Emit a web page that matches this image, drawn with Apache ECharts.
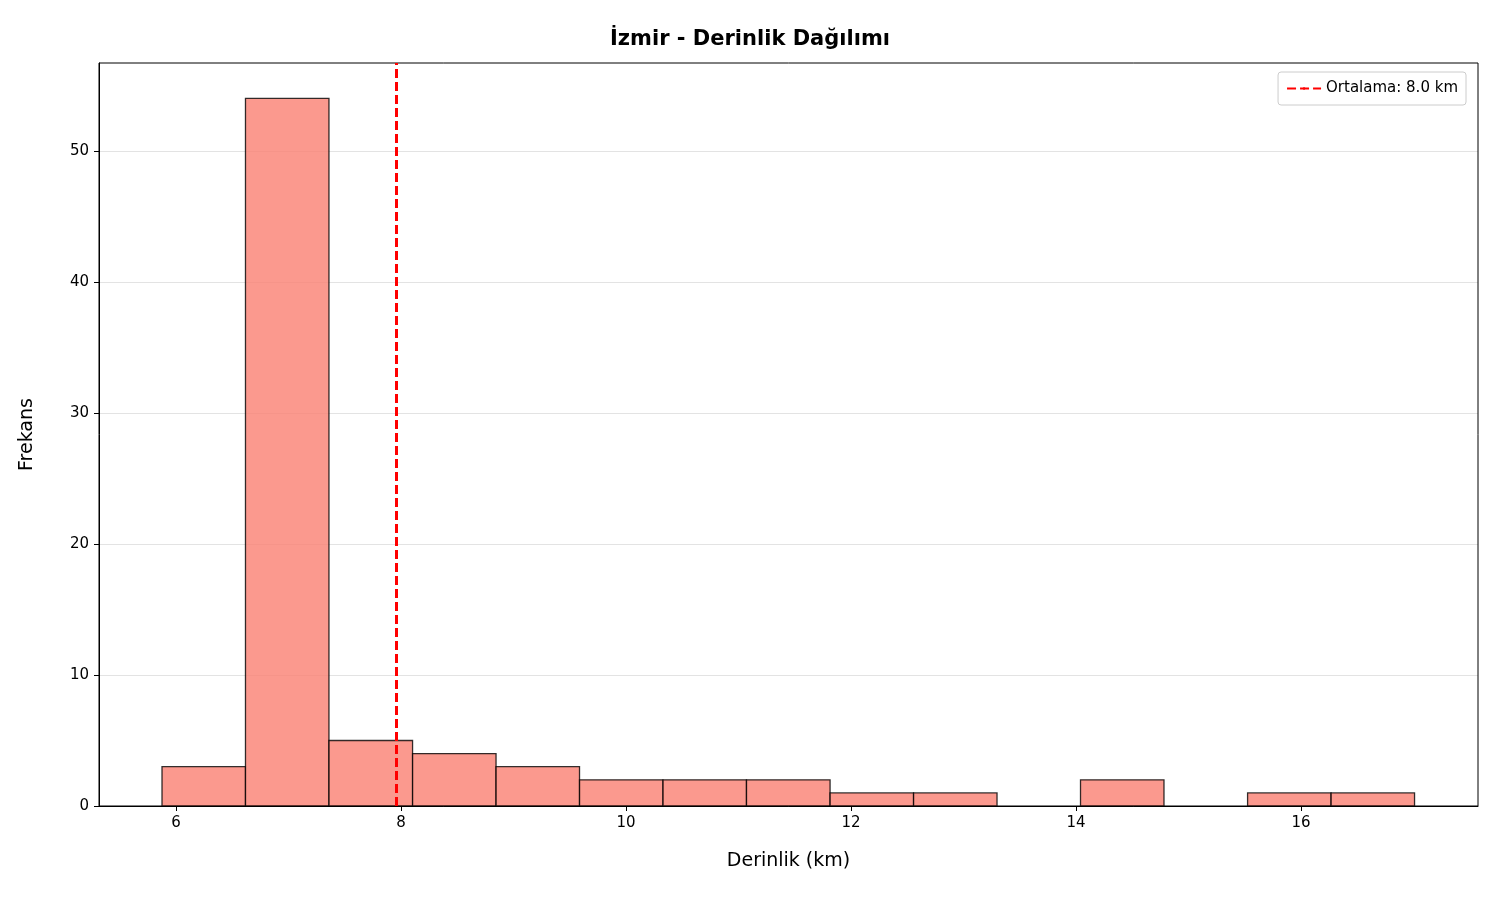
<!DOCTYPE html>
<html><head><meta charset="utf-8">
<script src="https://cdn.jsdelivr.net/npm/echarts@6/dist/echarts.min.js"></script>
<style>html,body{margin:0;padding:0;background:#fff}#c{width:1500px;height:900px}</style>
</head><body><div id="c"></div>
<script>
const binEdges = [5.876,6.618,7.360,8.103,8.845,9.587,10.329,11.071,11.814,12.556,13.298,14.040,14.782,15.525,16.267,17.009];
const counts = [3,54,5,4,3,2,2,2,1,1,0,2,0,1,1];
const meanDepth = 7.96;
const meanLabel = 'Ortalama: 8.0 km';
const xTicks = [6,8,10,12,14,16];
const yTicks = [0,10,20,30,40,50];

const bars = counts.map((c,i)=>[binEdges[i],binEdges[i+1],c]);
const font = 'DejaVu Sans';
const chart = echarts.init(document.getElementById('c'));
chart.setOption({
  animation:false,
  textStyle:{fontFamily:font},
  title:{text:'İzmir - Derinlik Dağılımı',left:'center',top:24,textStyle:{fontFamily:font,fontSize:21,fontWeight:'bold',color:'#000'}},
  grid:{left:99,right:22,top:63,bottom:94},
  legend:{right:34,top:72,data:[meanLabel],itemWidth:34,itemHeight:3,itemGap:10,
    borderColor:'#ccc',borderWidth:1,borderRadius:3,padding:[9,8,9,8],
    textStyle:{fontFamily:font,fontSize:15,color:'#000'}},
  xAxis:{type:'value',min:5.316,max:17.573,
    name:'Derinlik (km)',nameLocation:'middle',nameGap:46,nameTextStyle:{fontSize:19,color:'#000'},
    axisLine:{lineStyle:{color:'#000'}},
    axisLabel:{fontSize:15,color:'#000',margin:10,customValues:xTicks},
    axisTick:{show:true,length:5,customValues:xTicks,lineStyle:{color:'#000'}},
    splitLine:{show:false}},
  yAxis:{type:'value',min:0,max:56.7,
    name:'Frekans',nameLocation:'middle',nameGap:62,nameTextStyle:{fontSize:19,color:'#000'},
    axisLine:{show:true,lineStyle:{color:'#000'}},
    axisTick:{show:true,length:5,customValues:yTicks,lineStyle:{color:'#000'}},
    axisLabel:{fontSize:15,color:'#000',margin:10,customValues:yTicks},
    splitLine:{show:true,lineStyle:{color:'#e3e3e3',width:1.2}}},
  series:[
    {type:'custom',data:bars,z:2,
     renderItem:(p,api)=>{
       if(api.value(2)<=0) return null;
       const a=api.coord([api.value(0),api.value(2)]);
       const b=api.coord([api.value(1),0]);
       return {type:'rect',shape:{x:a[0],y:a[1],width:b[0]-a[0],height:b[1]-a[1]},
         style:{fill:'rgba(250,128,114,0.8)',stroke:'rgba(0,0,0,0.8)',lineWidth:1.3}};
     },encode:{x:[0,1],y:2}},
    {type:'line',name:meanLabel,data:[],symbol:'none',z:5,
     lineStyle:{color:'#ff0000',type:[9,4],width:3},itemStyle:{color:'#ff0000'},
     markLine:{symbol:'none',silent:true,label:{show:false},
       lineStyle:{color:'#ff0000',type:[9,4],width:3},data:[{xAxis:meanDepth}]}},
    {type:'line',data:[],markArea:{silent:true,itemStyle:{color:'transparent',borderColor:'#000',borderWidth:1},
      data:[[{x:99,y:63},{x:1478,y:806}]]}}
  ]
});
</script></body></html>
